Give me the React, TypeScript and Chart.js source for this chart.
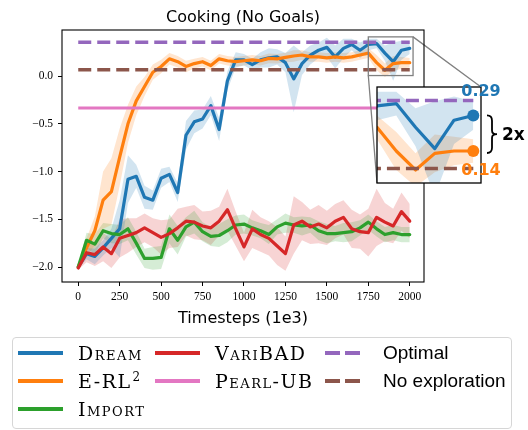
import React, { useEffect, useRef } from 'react';
import { Chart, registerables } from 'chart.js';

Chart.register(...registerables);

// ---------------- data ----------------
const TITLE = 'Cooking (No Goals)';
const X_LABEL = 'Timesteps (1e3)';

const TIMESTEPS = [
  0, 50, 100, 150, 200, 250, 300, 350, 400, 450, 500, 550, 600, 650, 700, 750, 800, 850, 900, 950,
  1000, 1050, 1100, 1150, 1200, 1250, 1300, 1350, 1400, 1450, 1500, 1550, 1600, 1650, 1700, 1750,
  1800, 1850, 1900, 1950, 2000,
];

const DREAM = [
  -2.0, -1.86, -1.89, -1.8, -1.7, -1.6, -1.08, -1.05, -1.27, -1.3, -1.07, -1.03, -1.22, -0.62, -0.48,
  -0.45, -0.31, -0.56, -0.05, 0.17, 0.17, 0.12, 0.17, 0.19, 0.2, 0.14, -0.03, 0.13, 0.22, 0.27, 0.3,
  0.2, 0.29, 0.33, 0.27, 0.33, 0.34, 0.24, 0.15, 0.27, 0.29,
];
const DREAM_SPREAD = [
  0.02, 0.06, 0.08, 0.08, 0.1, 0.3, 0.25, 0.12, 0.12, 0.1, 0.1, 0.08, 0.1, 0.15, 0.12, 0.1, 0.1, 0.12,
  0.1, 0.08, 0.06, 0.06, 0.08, 0.1, 0.08, 0.1, 0.35, 0.12, 0.1, 0.08, 0.1, 0.12, 0.1, 0.06, 0.08, 0.06,
  0.05, 0.08, 0.2, 0.1, 0.06,
];

const ERL2 = [
  -2.0, -1.8, -1.62, -1.3, -1.21, -0.85, -0.5, -0.26, -0.11, 0.04, 0.1, 0.18, 0.15, 0.1, 0.13, 0.15,
  0.11, 0.18, 0.16, 0.15, 0.16, 0.17, 0.16, 0.185, 0.18, 0.195, 0.21, 0.22, 0.2, 0.2, 0.19, 0.2, 0.19,
  0.2, 0.22, 0.24, 0.14, 0.06, 0.13, 0.14, 0.14,
];
const ERL2_SPREAD = [
  0.02, 0.1, 0.15, 0.3, 0.35, 0.3, 0.2, 0.15, 0.1, 0.08, 0.07, 0.06, 0.06, 0.06, 0.05, 0.05, 0.05, 0.05,
  0.05, 0.05, 0.05, 0.05, 0.05, 0.05, 0.05, 0.05, 0.06, 0.05, 0.05, 0.05, 0.05, 0.05, 0.05, 0.05, 0.05,
  0.05, 0.08, 0.07, 0.08, 0.06, 0.05,
];

const IMPORT = [
  -2.0, -1.72, -1.76, -1.62, -1.65, -1.66, -1.6, -1.75, -1.91, -1.91, -1.9, -1.6, -1.72, -1.58, -1.53,
  -1.63, -1.68, -1.67, -1.62, -1.56, -1.55, -1.59, -1.62, -1.66, -1.58, -1.54, -1.56, -1.57, -1.56,
  -1.62, -1.65, -1.65, -1.64, -1.63, -1.59, -1.53, -1.6, -1.66, -1.64, -1.66, -1.66,
];
const IMPORT_SPREAD = [
  0.02, 0.08, 0.1, 0.08, 0.1, 0.1, 0.12, 0.12, 0.1, 0.12, 0.12, 0.15, 0.15, 0.1, 0.12, 0.1, 0.1, 0.12,
  0.12, 0.1, 0.1, 0.08, 0.08, 0.1, 0.08, 0.1, 0.08, 0.1, 0.08, 0.1, 0.1, 0.08, 0.1, 0.1, 0.08, 0.08,
  0.08, 0.08, 0.08, 0.08, 0.08,
];

const VARIBAD = [
  -2.01, -1.85, -1.87, -1.79, -1.86, -1.7, -1.67, -1.64, -1.59, -1.64, -1.69, -1.65, -1.59, -1.52,
  -1.53, -1.57, -1.59, -1.52, -1.4, -1.6, -1.79, -1.6, -1.66, -1.7, -1.78, -1.86, -1.56, -1.52, -1.58,
  -1.55, -1.59, -1.52, -1.48, -1.6, -1.63, -1.64, -1.48, -1.53, -1.57, -1.42, -1.52,
];
const VARIBAD_SPREAD = [
  0.02, 0.1, 0.12, 0.15, 0.15, 0.2, 0.18, 0.15, 0.15, 0.15, 0.18, 0.15, 0.2, 0.15, 0.18, 0.15, 0.18,
  0.15, 0.22, 0.18, 0.15, 0.2, 0.18, 0.18, 0.2, 0.18, 0.3, 0.2, 0.18, 0.2, 0.18, 0.18, 0.18, 0.2, 0.18,
  0.25, 0.3, 0.2, 0.18, 0.2, 0.18,
];

const PEARL_UB = -0.335;
const OPTIMAL = 0.353;
const NO_EXPLORATION = 0.066;

const X_TICKS = [0, 250, 500, 750, 1000, 1250, 1500, 1750, 2000];
const Y_TICKS = [-2.0, -1.5, -1.0, -0.5, 0.0];
const X_RANGE = [-98, 2086];
const Y_RANGE = [-2.157, 0.482];

const INSET_X_RANGE = [1750, 2020];
const INSET_Y_RANGE = [0.005, 0.41];

// ---------------- styles / layout ----------------
const C_BLUE = '#1f77b4';
const C_ORANGE = '#ff7f0e';
const C_GREEN = '#2ca02c';
const C_RED = '#d62728';
const C_PURPLE = '#9467bd';
const C_BROWN = '#8c564b';
const C_PINK = '#e377c2';
const BAND = (hex: string) => {
  const n = parseInt(hex.slice(1), 16);
  return `rgba(${(n >> 16) & 255},${(n >> 8) & 255},${n & 255},0.2)`;
};

const W = 528;
const H = 430;
const INSET_CANVAS = { left: 370, top: 76, width: 158, height: 120 };
const INSET_BOX = { left: 377, top: 87, right: 481, bottom: 183 };

const TICK_FONT = { family: '"Liberation Serif"', size: 11.5 };
const LINE_W = 3.2;
const DASH = [13, 6];

// ---------------- helpers ----------------
const xy = (vals: number[]) => TIMESTEPS.map((t, i) => ({ x: t, y: vals[i] }));
const bandPts = (vals: number[], spread: number[], sign: number) =>
  TIMESTEPS.map((t, i) => ({ x: t, y: vals[i] + sign * spread[i] }));
const hline = (v: number) => [
  { x: TIMESTEPS[0], y: v },
  { x: TIMESTEPS[TIMESTEPS.length - 1], y: v },
];

function seriesSets(name: string, vals: number[], spread: number[], color: string, order: number, endDot = false) {
  const last = TIMESTEPS.length - 1;
  return [
    {
      label: name + '_hi',
      data: bandPts(vals, spread, 1),
      borderColor: 'transparent',
      borderWidth: 0,
      pointRadius: 0,
      fill: false,
      order: 50,
    },
    {
      label: name + '_lo',
      data: bandPts(vals, spread, -1),
      borderColor: 'transparent',
      borderWidth: 0,
      pointRadius: 0,
      backgroundColor: BAND(color),
      fill: '-1',
      order: 50,
    },
    {
      label: name,
      data: xy(vals),
      borderColor: color,
      backgroundColor: color,
      borderWidth: LINE_W,
      borderJoinStyle: 'round',
      borderCapStyle: 'round',
      pointRadius: endDot ? TIMESTEPS.map((_, i) => (i === last ? 6 : 0)) : 0,
      pointBorderWidth: 0,
      pointBackgroundColor: color,
      fill: false,
      order,
    },
  ];
}

function hlineSet(name: string, v: number, color: string, dashed: boolean, order: number) {
  return {
    label: name,
    data: hline(v),
    borderColor: color,
    borderWidth: dashed ? 3.4 : LINE_W,
    borderDash: dashed ? DASH : [],
    borderCapStyle: 'butt',
    pointRadius: 0,
    fill: false,
    order,
  };
}

const fmtY = (v: number) => (v < 0 ? '\u2212' : '') + Math.abs(v).toFixed(1);

// ---------------- plugins ----------------
const mainDecor = {
  id: 'mainDecor',
  afterDatasetsDraw(chart: any) {
    const { ctx, chartArea: a, scales } = chart;
    const x = scales.x;
    const y = scales.y;
    const rx0 = x.getPixelForValue(INSET_X_RANGE[0]);
    const rx1 = x.getPixelForValue(INSET_X_RANGE[1]);
    const ry0 = y.getPixelForValue(INSET_Y_RANGE[1]);
    const ry1 = y.getPixelForValue(INSET_Y_RANGE[0]);
    ctx.save();
    ctx.strokeStyle = '#808080';
    ctx.lineWidth = 1.3;
    ctx.strokeRect(rx0, ry0, rx1 - rx0, ry1 - ry0);
    ctx.beginPath();
    ctx.moveTo(rx1, ry0);
    ctx.lineTo(INSET_BOX.right, INSET_BOX.top);
    ctx.moveTo(rx0, ry1);
    ctx.lineTo(INSET_BOX.left, INSET_BOX.bottom);
    ctx.stroke();
    ctx.strokeStyle = '#000';
    ctx.lineWidth = 1.1;
    ctx.strokeRect(a.left, a.top, a.right - a.left, a.bottom - a.top);
    ctx.fillStyle = '#000';
    ctx.font = '16px "DejaVu Sans"';
    ctx.textAlign = 'center';
    ctx.textBaseline = 'alphabetic';
    ctx.fillText(TITLE, (a.left + a.right) / 2, 22);
    ctx.restore();
  },
};

const insetDecor = {
  id: 'insetDecor',
  beforeDraw(chart: any) {
    const { ctx, chartArea: a } = chart;
    ctx.save();
    ctx.fillStyle = '#fff';
    ctx.fillRect(a.left, a.top, a.right - a.left, a.bottom - a.top);
    ctx.restore();
  },
  afterDraw(chart: any) {
    const { ctx, chartArea: a, scales } = chart;
    const y = scales.y;
    const last = TIMESTEPS.length - 1;
    const dreamEnd = DREAM[last];
    const erlEnd = ERL2[last];
    const yb = y.getPixelForValue(dreamEnd);
    const yo = y.getPixelForValue(erlEnd);
    ctx.save();
    ctx.strokeStyle = '#000';
    ctx.lineWidth = 1.3;
    ctx.strokeRect(a.left, a.top, a.right - a.left, a.bottom - a.top);
    ctx.font = 'bold 16px "DejaVu Sans"';
    ctx.textAlign = 'center';
    ctx.textBaseline = 'middle';
    ctx.fillStyle = C_BLUE;
    ctx.fillText(dreamEnd.toFixed(2), a.right, yb - 24);
    ctx.fillStyle = C_ORANGE;
    ctx.fillText(erlEnd.toFixed(2), a.right, yo + 20);
    // brace
    const x0 = a.right + 6;
    const w = 10;
    const top = yb;
    const bot = yo + 2;
    const h = bot - top;
    const ym = (top + bot) / 2;
    const xm = x0 + w / 2;
    ctx.strokeStyle = '#000';
    ctx.lineWidth = 1.8;
    ctx.beginPath();
    ctx.moveTo(x0, top);
    ctx.quadraticCurveTo(xm, top, xm, top + h * 0.14);
    ctx.lineTo(xm, ym - h * 0.1);
    ctx.quadraticCurveTo(xm, ym, x0 + w, ym);
    ctx.quadraticCurveTo(xm, ym, xm, ym + h * 0.1);
    ctx.lineTo(xm, bot - h * 0.14);
    ctx.quadraticCurveTo(xm, bot, x0, bot);
    ctx.stroke();
    ctx.fillStyle = '#000';
    ctx.font = 'bold 17px "DejaVu Sans"';
    ctx.textAlign = 'left';
    ctx.fillText(`${Math.round(dreamEnd / erlEnd)}x`, x0 + w + 5, ym + 1);
    ctx.restore();
  },
};

// ---------------- configs ----------------
function mainConfig(): any {
  return {
    type: 'line',
    data: {
      datasets: [
        ...seriesSets('Dream', DREAM, DREAM_SPREAD, C_BLUE, 10),
        ...seriesSets('E-RL2', ERL2, ERL2_SPREAD, C_ORANGE, 9),
        ...seriesSets('Import', IMPORT, IMPORT_SPREAD, C_GREEN, 8),
        ...seriesSets('VariBAD', VARIBAD, VARIBAD_SPREAD, C_RED, 7),
        hlineSet('Pearl-UB', PEARL_UB, C_PINK, false, 6),
        hlineSet('Optimal', OPTIMAL, C_PURPLE, true, 5),
        hlineSet('No exploration', NO_EXPLORATION, C_BROWN, true, 4),
      ],
    },
    options: {
      responsive: false,
      animation: false,
      events: [],
      layout: { autoPadding: false, padding: { left: 0, top: 30, right: 104, bottom: 100 } },
      plugins: { legend: { display: false }, tooltip: { enabled: false }, title: { display: false } },
      scales: {
        x: {
          type: 'linear',
          min: X_RANGE[0],
          max: X_RANGE[1],
          afterBuildTicks: (s: any) => {
            s.ticks = X_TICKS.map((v) => ({ value: v }));
          },
          afterFit: (s: any) => {
            s.height = 48;
          },
          border: { display: false },
          grid: { display: true, drawOnChartArea: false, drawTicks: true, tickLength: 4, color: '#000', lineWidth: 1 },
          ticks: { font: TICK_FONT, color: '#000', padding: 4, maxRotation: 0, autoSkip: false, callback: (v: any) => String(v) },
          title: { display: true, text: X_LABEL, color: '#000', font: { family: '"DejaVu Sans"', size: 16 }, padding: { top: 0, bottom: 2 } },
        },
        y: {
          type: 'linear',
          min: Y_RANGE[0],
          max: Y_RANGE[1],
          afterBuildTicks: (s: any) => {
            s.ticks = Y_TICKS.map((v) => ({ value: v }));
          },
          afterFit: (s: any) => {
            s.width = 62;
          },
          border: { display: false },
          grid: { display: true, drawOnChartArea: false, drawTicks: true, tickLength: 4, color: '#000', lineWidth: 1 },
          ticks: { font: TICK_FONT, color: '#000', padding: 5, autoSkip: false, callback: (v: any) => fmtY(Number(v)) },
        },
      },
    },
    plugins: [mainDecor],
  };
}

function insetConfig(): any {
  return {
    type: 'line',
    data: {
      datasets: [
        ...seriesSets('Dream', DREAM, DREAM_SPREAD, C_BLUE, 10, true),
        ...seriesSets('E-RL2', ERL2, ERL2_SPREAD, C_ORANGE, 9, true),
        hlineSet('Optimal', OPTIMAL, C_PURPLE, true, 5),
        hlineSet('No exploration', NO_EXPLORATION, C_BROWN, true, 4),
      ],
    },
    options: {
      responsive: false,
      animation: false,
      events: [],
      layout: {
        autoPadding: false,
        padding: {
          left: INSET_BOX.left - INSET_CANVAS.left,
          top: INSET_BOX.top - INSET_CANVAS.top,
          right: INSET_CANVAS.left + INSET_CANVAS.width - INSET_BOX.right,
          bottom: INSET_CANVAS.top + INSET_CANVAS.height - INSET_BOX.bottom,
        },
      },
      plugins: { legend: { display: false }, tooltip: { enabled: false }, title: { display: false } },
      scales: {
        x: { type: 'linear', display: false, min: INSET_X_RANGE[0], max: INSET_X_RANGE[1] },
        y: { type: 'linear', display: false, min: INSET_Y_RANGE[0], max: INSET_Y_RANGE[1] },
      },
    },
    plugins: [insetDecor],
  };
}

// ---------------- legend ----------------
type LegendItem = { name: string; sup?: string; color: string; dashed: boolean; serif: boolean };
const LEGEND_ITEMS: LegendItem[] = [
  { name: 'Dream', color: C_BLUE, dashed: false, serif: true },
  { name: 'E-RL', sup: '2', color: C_ORANGE, dashed: false, serif: true },
  { name: 'Import', color: C_GREEN, dashed: false, serif: true },
  { name: 'VariBAD', color: C_RED, dashed: false, serif: true },
  { name: 'Pearl-UB', color: C_PINK, dashed: false, serif: true },
  { name: 'Optimal', color: C_PURPLE, dashed: true, serif: false },
  { name: 'No exploration', color: C_BROWN, dashed: true, serif: false },
];
const LEGEND_COLUMNS = [[0, 1, 2], [3, 4], [5, 6]];
const LEG_SWATCH_X = [18, 155, 325];
const LEG_TEXT_X = [78, 215, 383];
const LEG_ROW_Y = [352.5, 380.8, 409.2];

function Swatch({ item, x, y }: { item: LegendItem; x: number; y: number }) {
  if (!item.dashed) {
    return <div style={{ position: 'absolute', left: x, top: y - 2, width: 45, height: 4, background: item.color }} />;
  }
  return (
    <>
      <div style={{ position: 'absolute', left: x, top: y - 2, width: 15, height: 4, background: item.color }} />
      <div style={{ position: 'absolute', left: x + 20, top: y - 2, width: 15, height: 4, background: item.color }} />
    </>
  );
}

export default function App() {
  const mainRef = useRef<HTMLCanvasElement>(null);
  const insetRef = useRef<HTMLCanvasElement>(null);

  useEffect(() => {
    Chart.defaults.font.family = '"DejaVu Sans"';
    Chart.defaults.color = '#000';
    const main = new Chart(mainRef.current as HTMLCanvasElement, mainConfig());
    const inset = new Chart(insetRef.current as HTMLCanvasElement, insetConfig());
    return () => {
      main.destroy();
      inset.destroy();
    };
  }, []);

  return (
    <div style={{ position: 'absolute', left: 0, top: 0, width: W, height: H, background: '#fff', overflow: 'hidden' }}>
      <canvas ref={mainRef} width={W} height={H} style={{ position: 'absolute', left: 0, top: 0, width: W, height: H }} />
      <canvas
        ref={insetRef}
        width={INSET_CANVAS.width}
        height={INSET_CANVAS.height}
        style={{ position: 'absolute', left: INSET_CANVAS.left, top: INSET_CANVAS.top, width: INSET_CANVAS.width, height: INSET_CANVAS.height }}
      />
      <div
        style={{
          position: 'absolute',
          left: 12,
          top: 337,
          width: 500,
          height: 92,
          boxSizing: 'border-box',
          border: '1px solid #d6d6d6',
          borderRadius: 4,
        }}
      />
      {LEGEND_COLUMNS.map((col, c) =>
        col.map((idx, r) => {
          const item = LEGEND_ITEMS[idx];
          const y = LEG_ROW_Y[r];
          return (
            <React.Fragment key={idx}>
              <Swatch item={item} x={LEG_SWATCH_X[c]} y={y} />
              <div
                style={{
                  position: 'absolute',
                  left: LEG_TEXT_X[c],
                  top: y - 15,
                  height: 30,
                  lineHeight: '30px',
                  whiteSpace: 'nowrap',
                  color: '#000',
                  fontFamily: item.serif ? '"DejaVu Serif"' : '"Liberation Sans"',
                  fontSize: item.serif ? 19 : 19,
                  fontVariant: item.serif ? 'small-caps' : 'normal',
                  letterSpacing: item.serif ? 1.5 : 0,
                }}
              >
                {item.name}
                {item.sup ? (
                  <span style={{ fontSize: 12, position: 'relative', top: -7, marginLeft: 1 }}>{item.sup}</span>
                ) : null}
              </div>
            </React.Fragment>
          );
        })
      )}
    </div>
  );
}
